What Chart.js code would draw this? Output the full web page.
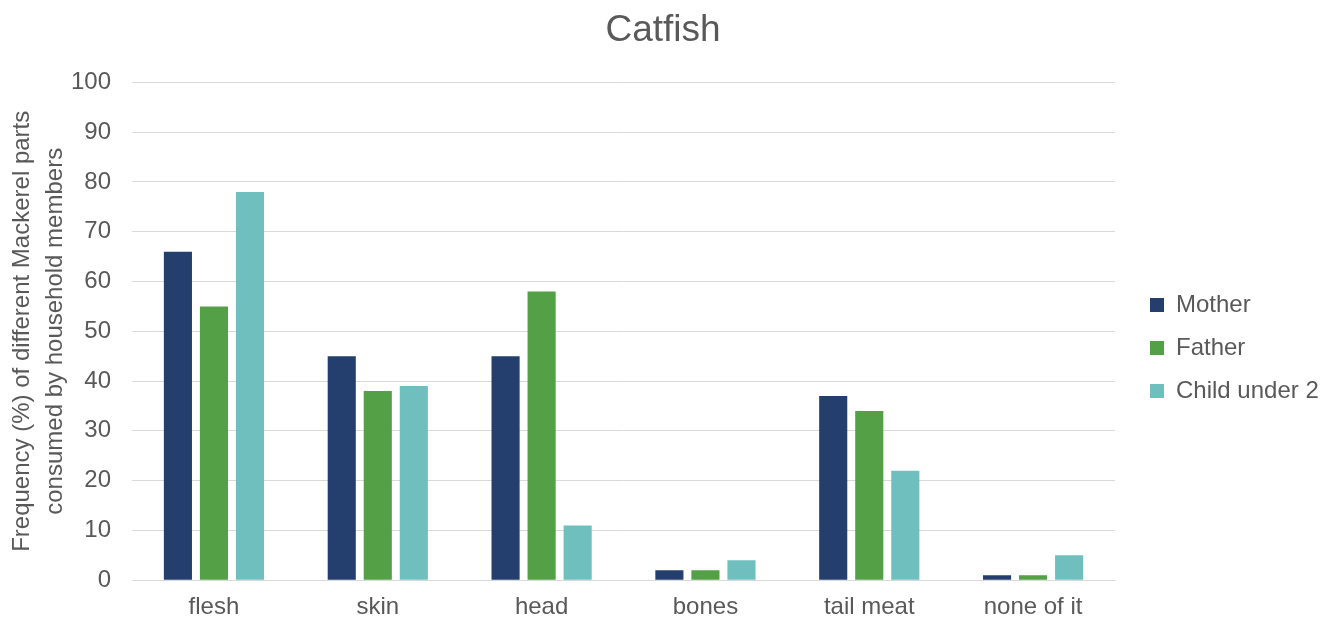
<!DOCTYPE html>
<html>
<head>
<meta charset="utf-8">
<script src="https://cdn.jsdelivr.net/npm/chart.js@4/dist/chart.umd.min.js"></script>
<style>
  html, body { margin: 0; padding: 0; background: #fff; }
  #wrap { width: 1320px; height: 619px; }
</style>
</head>
<body>
<div id="wrap"><canvas id="chart"></canvas></div>
<script>
const parts = ['flesh', 'skin', 'head', 'bones', 'tail meat', 'none of it'];
const mother = [66, 45, 45, 2, 37, 1];
const father = [55, 38, 58, 2, 34, 1];
const child = [78, 39, 11, 4, 22, 5];

const grey = '#595959';
Chart.defaults.font.family = '"Liberation Sans", Arial, sans-serif';
Chart.defaults.color = grey;

// legend column: fixed width on the right, items nudged in and down
const LEGEND_WIDTH = 205;
const LEGEND_SHIFT_X = 16;
const LEGEND_SHIFT_Y = 26;

const legendPlacer = {
  id: 'legendPlacer',
  beforeLayout(chart) {
    const legend = chart.legend;
    if (!legend || legend._wrapped) return;
    const fit = legend.fit;
    legend.fit = function () {
      fit.call(this);
      this.width = LEGEND_WIDTH;
    };
    legend._wrapped = true;
  },
  afterLayout(chart) {
    const legend = chart.legend;
    legend.left += LEGEND_SHIFT_X;
    legend.top += LEGEND_SHIFT_Y;
    legend.bottom += LEGEND_SHIFT_Y;
  }
};

new Chart(document.getElementById('chart'), {
  type: 'bar',
  data: {
    labels: parts,
    datasets: [
      { label: 'Mother', data: mother, backgroundColor: '#243f6e' },
      { label: 'Father', data: father, backgroundColor: '#54a046' },
      { label: 'Child under 2', data: child, backgroundColor: '#6fbfbf' }
    ]
  },
  plugins: [legendPlacer],
  options: {
    responsive: true,
    maintainAspectRatio: false,
    animation: false,
    categoryPercentage: 0.66,
    barPercentage: 0.78,
    layout: { padding: { left: 6, right: 0, top: 9, bottom: -16 } },
    plugins: {
      title: {
        display: true,
        text: 'Catfish',
        color: grey,
        font: { size: 37, weight: 'normal' },
        padding: { top: 0, bottom: 29 }
      },
      legend: {
        position: 'right',
        labels: {
          boxWidth: 14,
          boxHeight: 14,
          padding: 19,
          color: grey,
          font: { size: 24 }
        }
      },
      tooltip: { enabled: false }
    },
    scales: {
      x: {
        grid: { display: false, drawTicks: false },
        border: { color: '#d9d9d9' },
        ticks: { font: { size: 24 }, color: grey, padding: 13 }
      },
      y: {
        min: 0,
        max: 100,
        ticks: { stepSize: 10, font: { size: 24 }, color: grey, padding: 21 },
        grid: { color: '#d9d9d9', drawTicks: false },
        border: { display: false },
        title: {
          display: true,
          text: ['Frequency (%) of different Mackerel parts', 'consumed by household members'],
          color: grey,
          font: { size: 24, lineHeight: 1.375 },
          padding: { top: 0, bottom: -22 }
        }
      }
    }
  }
});
</script>
</body>
</html>
